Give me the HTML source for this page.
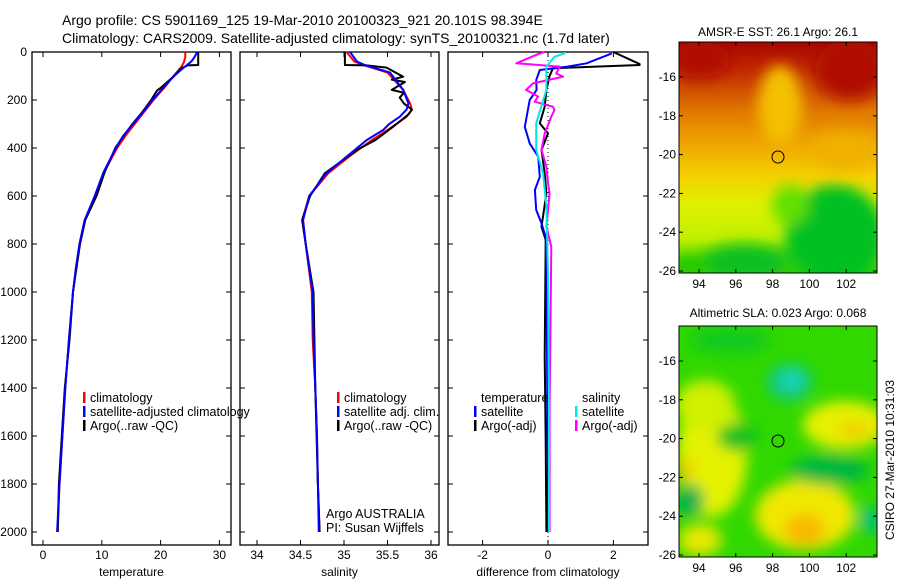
<!DOCTYPE html>
<html><head><meta charset="utf-8"><style>
html,body{margin:0;padding:0;background:#fff;}
svg{display:block;font-family:"Liberation Sans",sans-serif;}
</style></head><body>
<svg id="root" width="900" height="580" viewBox="0 0 900 580">
<defs>
<filter id="blur1" x="-50%" y="-50%" width="200%" height="200%"><feGaussianBlur stdDeviation="7"/></filter>
<clipPath id="clipMap1"><rect x="679" y="42" width="198" height="231"/></clipPath>
<clipPath id="clipMap2"><rect x="679" y="326" width="198" height="231"/></clipPath>
<linearGradient id="sstGrad" x1="0" y1="0" x2="0" y2="1">
<stop offset="0" stop-color="#a80400"/><stop offset="0.12" stop-color="#c02800"/><stop offset="0.3" stop-color="#e07800"/><stop offset="0.45" stop-color="#f0a800"/><stop offset="0.58" stop-color="#f4d000"/><stop offset="0.7" stop-color="#e0f000"/><stop offset="0.85" stop-color="#c0f000"/><stop offset="1" stop-color="#30d000"/>
</linearGradient>
</defs>
<text x="62" y="25" font-size="14">Argo profile: CS 5901169_125 19-Mar-2010 20100323_921 20.101S 98.394E</text>
<text x="62" y="43" font-size="14">Climatology: CARS2009. Satellite-adjusted climatology: synTS_20100321.nc (1.7d later)</text>
<g id="panels"></g>

<!-- SST map -->
<g>
<text x="778" y="36" font-size="12" text-anchor="middle">AMSR-E SST: 26.1 Argo: 26.1</text>
<g clip-path="url(#clipMap1)">
<rect x="679" y="42" width="198" height="231" fill="url(#sstGrad)"/>
<g filter="url(#blur1)">
<ellipse cx="780" cy="105" rx="22" ry="40" fill="#f4c000"/>
<ellipse cx="850" cy="70" rx="35" ry="30" fill="#b01000"/>
<ellipse cx="700" cy="60" rx="30" ry="18" fill="#b00800"/>
<ellipse cx="835" cy="235" rx="50" ry="50" fill="#00c020"/>
<ellipse cx="790" cy="205" rx="18" ry="20" fill="#60e000"/>
<ellipse cx="745" cy="262" rx="45" ry="18" fill="#10c020"/>
<ellipse cx="690" cy="265" rx="20" ry="10" fill="#20c800"/>
<ellipse cx="845" cy="150" rx="35" ry="18" fill="#f0b000"/>
</g>
</g>
<rect x="679" y="42" width="198" height="231" fill="none" stroke="#000"/>
<circle cx="778" cy="157" r="6" fill="none" stroke="#000"/>
<g id="map1axes"></g>
</g>

<!-- SLA map -->
<g>
<text x="778" y="317" font-size="12" text-anchor="middle">Altimetric SLA: 0.023 Argo: 0.068</text>
<g clip-path="url(#clipMap2)">
<rect x="679" y="326" width="198" height="231" fill="#30d800"/>
<g filter="url(#blur1)">
<ellipse cx="712" cy="455" rx="35" ry="62" fill="#e4f200"/>
<ellipse cx="705" cy="405" rx="30" ry="25" fill="#d0f000"/>
<ellipse cx="805" cy="515" rx="50" ry="35" fill="#f0e800"/>
<ellipse cx="805" cy="530" rx="20" ry="16" fill="#f8b800"/>
<ellipse cx="845" cy="425" rx="42" ry="24" fill="#e8f000"/>
<ellipse cx="855" cy="430" rx="18" ry="9" fill="#f0d000"/>
<ellipse cx="790" cy="382" rx="22" ry="18" fill="#10c890"/>
<ellipse cx="792" cy="380" rx="10" ry="8" fill="#20d8c0"/>
<ellipse cx="737" cy="437" rx="20" ry="14" fill="#00c020"/>
<ellipse cx="830" cy="470" rx="40" ry="15" fill="#00b840"/>
<ellipse cx="690" cy="500" rx="14" ry="16" fill="#00b050"/>
<ellipse cx="870" cy="520" rx="10" ry="14" fill="#00c080"/>
<ellipse cx="700" cy="540" rx="22" ry="16" fill="#e8e800"/>
<ellipse cx="685" cy="470" rx="8" ry="12" fill="#f0c800"/>
<ellipse cx="730" cy="340" rx="40" ry="12" fill="#10c820"/>
</g>
</g>
<rect x="679" y="326" width="198" height="231" fill="none" stroke="#000"/>
<circle cx="778" cy="441" r="6" fill="none" stroke="#000"/>
<g id="map2axes"></g>
</g>
<text transform="translate(894,460) rotate(-90)" font-size="12" text-anchor="middle">CSIRO 27-Mar-2010 10:31:03</text>
</svg>
<script>
// ---------- data ----------
const depthClim = [0,20,40,60,80,100,150,200,250,300,350,400,500,600,700,800,900,1000,1200,1400,1600,1800,2000];
const tempClim = [24.2,24.2,24.0,23.6,22.9,22.2,20.6,18.8,17.2,15.6,14.0,12.6,10.4,8.9,7.1,6.2,5.6,5.1,4.4,3.8,3.3,2.8,2.5];
const tempSat  = [26.2,25.8,25.2,24.2,23.2,22.3,20.4,18.6,17.0,15.3,13.6,12.4,10.3,8.8,7.1,6.2,5.6,5.1,4.4,3.8,3.3,2.8,2.4];
const depthArgo = [0,54,56,70,100,150,160,200,250,300,350,400,450,500,600,700,800,1000,1200,1400,1600,1800,2000];
const tempArgo = [26.4,26.4,24.6,23.4,22.3,20.0,19.4,18.4,16.9,15.2,13.7,12.3,11.4,10.5,9.1,7.2,6.3,5.1,4.5,3.7,3.2,2.7,2.5];

const salDepthClim = [0,40,54,86,158,214,240,270,300,325,367,436,505,600,700,800,1000,1200,1400,1600,1800,2000];
const salClim = [35.03,35.12,35.22,35.5,35.68,35.76,35.78,35.72,35.6,35.5,35.32,35.06,34.82,34.6,34.52,34.56,34.63,34.64,34.67,34.69,34.70,34.72];
const salSat  = [35.07,35.15,35.24,35.53,35.68,35.74,35.72,35.64,35.52,35.45,35.26,35.03,34.80,34.60,34.53,34.56,34.64,34.65,34.67,34.69,34.70,34.71];
const salDepthArgo = [0,54,56,65,103,115,125,158,170,190,215,240,260,313,367,408,505,600,700,800,1000,1400,1800,2000];
const salArgo = [35.01,35.01,35.26,35.49,35.68,35.55,35.70,35.55,35.69,35.64,35.69,35.78,35.74,35.56,35.36,35.15,34.78,34.61,34.52,34.56,34.65,34.67,34.70,34.72];

const diffDepth = [6,47,61,75,117,158,200,312,381,436,520,575,658,714,770,908,1200,1500,1800,2000];
const diffTempSat = [1.95,1.18,0.6,-0.25,-0.36,-0.35,-0.56,-0.71,-0.56,-0.3,-0.25,-0.4,-0.36,-0.2,-0.07,-0.05,-0.03,-0.02,0.0,0.0];
const diffTempArgoDepth = [0,50,54,68,100,158,228,297,339,408,506,589,728,783,1269,1617,2000];
const diffTempArgo = [2.0,2.8,2.8,0.15,0.05,-0.05,-0.1,-0.25,0.0,-0.2,-0.1,-0.05,-0.2,-0.07,-0.1,-0.07,-0.05];
const diffSalSatDepth = [0,6,20,61,158,297,408,506,644,922,1500,2000];
const diffSalSat = [0.5,0.5,0.2,-0.05,-0.05,-0.36,-0.36,-0.15,-0.05,0.0,0.03,0.03];
const diffSalArgoDepth = [0,6,20,47,61,89,103,131,158,186,207,228,242,269,339,408,478,547,589,728,811,1478,2000];
const diffSalArgo = [-0.1,-0.25,-0.5,-0.97,0.36,0.25,0.46,-0.46,-0.67,-0.3,-0.41,0.15,0.2,0.1,-0.1,-0.2,-0.05,0.0,0.05,-0.05,0.1,0.05,0.05];

const depthTicks = [0,200,400,600,800,1000,1200,1400,1600,1800,2000];
const tempTicks = [0,10,20,30];
const salTicks = [34,34.5,35,35.5,36];
const diffTicks = [-2,0,2];
const lonTicks = [94,96,98,100,102];
const latTicks = [-16,-18,-20,-22,-24,-26];

// ---------- scales ----------
const NS='http://www.w3.org/2000/svg';
const PT=52, PB=545;
const yD = d => 52 + d*0.24;
const xT = t => 43 + t*5.88;
const xS = s => 257 + (s-34)*87;
const xDf = v => 548 + v*32.7;
const lonX = l => 699 + (l-94)*18.4;
const latY1 = la => 77 + (-16-la)*19.4;
const latY2 = la => 361 + (-16-la)*19.4;

function mk(tag, attrs, parent){
  const e=document.createElementNS(NS,tag);
  for(const k in attrs) e.setAttribute(k,attrs[k]);
  parent.appendChild(e); return e;
}
const panels=document.getElementById('panels');

function panel(name,x0,x1,xs,ticks,tickLabel,axisLabel,showDepthLabels){
  const g=mk('g',{},panels);
  
  
  const r=mk('rect',{x:x0,y:PT,width:x1-x0,height:PB-PT,fill:'none',stroke:'#000','stroke-width':1.3},g);
  
  
  depthTicks.forEach(d=>{
    const y=yD(d);
    mk('line',{x1:x0,x2:x0+5,y1:y,y2:y,stroke:'#000'},g);
    mk('line',{x1:x1-5,x2:x1,y1:y,y2:y,stroke:'#000'},g);
    if(showDepthLabels){
      const t=mk('text',{x:27,y:y+4,'font-size':12,'text-anchor':'end'},g);
      t.textContent=d;
      
      
    }
  });
  ticks.forEach(v=>{
    const x=xs(v);
    mk('line',{x1:x,x2:x,y1:PB-5,y2:PB,stroke:'#000'},g);
    mk('line',{x1:x,x2:x,y1:PT,y2:PT+5,stroke:'#000'},g);
    const t=mk('text',{x:x,y:559,'font-size':12,'text-anchor':'middle'},g);
    t.textContent=tickLabel(v);
    
    
  });
  const al=mk('text',{x:(x0+x1)/2,y:576,'font-size':12,'text-anchor':'middle'},g);
  al.textContent=axisLabel;
  
  
  return g;
}
function line(g,depths,vals,xs,color,name,w){
  const d=depths.map((dp,i)=>(i?'L':'M')+xs(vals[i]).toFixed(1)+','+yD(dp).toFixed(1)).join('');
  const p=mk('path',{d:d,fill:'none',stroke:color,'stroke-width':w||2,'stroke-linejoin':'round'},g);
  
  
}
function legend(g,x,y,color,label,name){
  if(color){ mk('rect',{x:x-7,y:y-10,width:2.5,height:11,fill:color},g); }
  const t=mk('text',{x:x,y:y,'font-size':12.5},g);
  t.textContent=label;
  
  
}

// Temperature panel
const gT=panel('temperature',32,231,xT,tempTicks,v=>v,'temperature',true);
line(gT,depthClim,tempClim,xT,'#ff0000','temp-climatology-line');
line(gT,depthArgo,tempArgo,xT,'#000000','temp-argo-line');
line(gT,depthClim,tempSat,xT,'#0000ff','temp-satellite-line');
legend(gT,90,402,'#ff0000','climatology','legend-climatology');
legend(gT,90,416,'#0000ff','satellite-adjusted climatology','legend-satellite-adjusted');
legend(gT,90,430,'#000000','Argo(..raw -QC)','legend-argo');

// Salinity panel
const gS=panel('salinity',240,439,xS,salTicks,v=>v,'salinity',false);
line(gS,salDepthClim,salClim,xS,'#ff0000','sal-climatology-line');
line(gS,salDepthArgo,salArgo,xS,'#000000','sal-argo-line');
line(gS,salDepthClim,salSat,xS,'#0000ff','sal-satellite-line');
legend(gS,344,402,'#ff0000','climatology','legend-sal-climatology');
legend(gS,344,416,'#0000ff','satellite adj. clim.','legend-sal-satellite');
legend(gS,344,430,'#000000','Argo(..raw -QC)','legend-sal-argo');
legend(gS,326,518,null,'Argo AUSTRALIA','argo-agency-label');
legend(gS,326,532,null,'PI: Susan Wijffels','pi-label');

// Difference panel
const gD=panel('difference',448,648,xDf,diffTicks,v=>v,'difference from climatology',false);
mk('line',{x1:xDf(0),x2:xDf(0),y1:PT,y2:PB,stroke:'#000','stroke-dasharray':'1,3'},gD);
line(gD,diffTempArgoDepth,diffTempArgo,xDf,'#000000','diff-temp-argo-line');
line(gD,diffDepth,diffTempSat,xDf,'#0000ff','diff-temp-satellite-line');
line(gD,diffSalArgoDepth,diffSalArgo,xDf,'#ff00ff','diff-sal-argo-line');
line(gD,diffSalSatDepth,diffSalSat,xDf,'#00e8e8','diff-sal-satellite-line');
legend(gD,481,402,null,'temperature','legend-temperature-header');
legend(gD,481,416,'#0000ff','satellite','legend-temp-satellite');
legend(gD,481,430,'#000000','Argo(-adj)','legend-temp-argo');
legend(gD,582,402,null,'salinity','legend-salinity-header');
legend(gD,582,416,'#00e8e8','satellite','legend-sal-sat');
legend(gD,582,430,'#ff00ff','Argo(-adj)','legend-sal-argo-adj');

// Map axes
function mapAxes(id,top,bottom,latY){
  const g=document.getElementById(id);
  lonTicks.forEach(l=>{
    const x=lonX(l);
    mk('line',{x1:x,x2:x,y1:bottom,y2:bottom-4,stroke:'#000'},g);
    mk('line',{x1:x,x2:x,y1:top,y2:top+4,stroke:'#000'},g);
    const t=mk('text',{x:x,y:bottom+15,'font-size':12,'text-anchor':'middle'},g);
    t.textContent=l;
    
    
  });
  latTicks.forEach(la=>{
    const y=latY(la);
    mk('line',{x1:877,x2:873,y1:y,y2:y,stroke:'#000'},g);
    mk('line',{x1:679,x2:683,y1:y,y2:y,stroke:'#000'},g);
    const t=mk('text',{x:676,y:y+4,'font-size':12,'text-anchor':'end'},g);
    t.textContent=la;
    
    
  });
}
mapAxes('map1axes',42,273,latY1);
mapAxes('map2axes',326,557,latY2);
</script>
</body></html>
